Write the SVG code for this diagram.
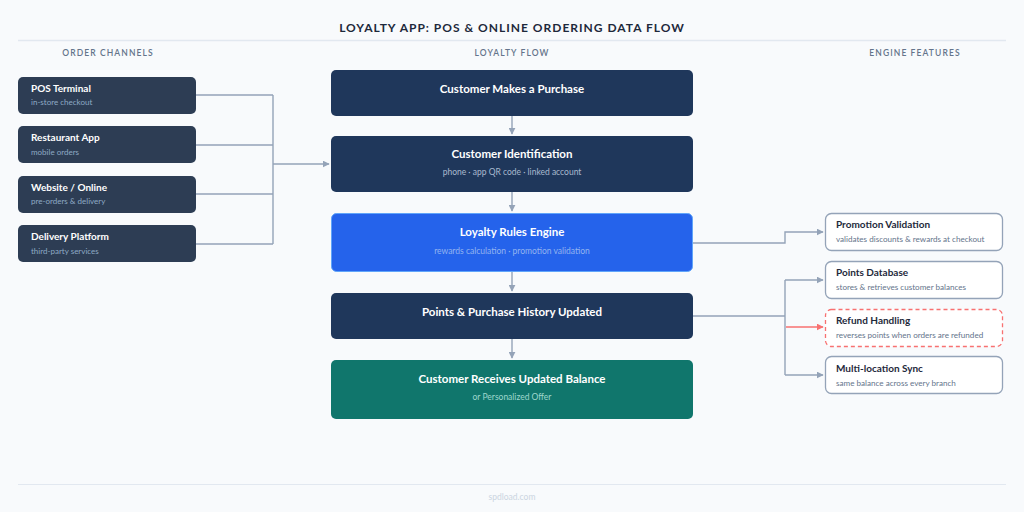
<svg xmlns="http://www.w3.org/2000/svg" width="1024" height="512" viewBox="0 0 1024 512">
<defs>
<marker id="ah" viewBox="0 0 10 10" refX="9" refY="5" markerWidth="7" markerHeight="7" orient="auto" markerUnits="userSpaceOnUse"><path d="M0,0 L10,5 L0,10 z" fill="#94a3b8"/></marker>
<marker id="ahr" viewBox="0 0 10 10" refX="9" refY="5" markerWidth="7" markerHeight="7" orient="auto" markerUnits="userSpaceOnUse"><path d="M0,0 L10,5 L0,10 z" fill="#f87171"/></marker>
<style>
text{font-family:Lato,"Open Sans","Liberation Sans",sans-serif}
.title{font-size:12px;font-weight:700;fill:#1e293b;letter-spacing:1.0px}
.hdr{font-size:8.5px;font-weight:600;fill:#64748b;letter-spacing:1.1px}
.ln{fill:#2d3d54}
.lt{font-size:10px;font-weight:700;fill:#ffffff}
.ls{font-size:8px;fill:#8eaac4}
.ct{font-size:11.5px;font-weight:700;fill:#ffffff}
.cs{font-size:8.5px;fill:#a9b9cf}
.rn{fill:#ffffff;stroke:#94a3b8;stroke-width:1.3}
.rt{font-size:10px;font-weight:700;fill:#1e293b}
.rs{font-size:8.1px;fill:#64748b}
.con{fill:none;stroke:#94a3b8;stroke-width:1.4}
</style>
</defs>
<rect width="1024" height="512" fill="#f8fafc"/>
<text x="512" y="32" text-anchor="middle" class="title">LOYALTY APP: POS &amp; ONLINE ORDERING DATA FLOW</text>
<line x1="18" y1="40.5" x2="1006" y2="40.5" stroke="#e2e8f0" stroke-width="1.5"/>
<text x="108" y="56" text-anchor="middle" class="hdr">ORDER CHANNELS</text>
<text x="512" y="56" text-anchor="middle" class="hdr">LOYALTY FLOW</text>
<text x="915" y="56" text-anchor="middle" class="hdr">ENGINE FEATURES</text>

<g id="connectors">
<path class="con" d="M196,95 H273 M196,145 H273 M196,194 H273 M196,244 H273 M273,95 V244"/>
<path class="con" d="M273,164 H329" marker-end="url(#ah)"/>
<path class="con" d="M512,116 V134" marker-end="url(#ah)"/>
<path class="con" d="M512,192 V211" marker-end="url(#ah)"/>
<path class="con" d="M512,272 V291" marker-end="url(#ah)"/>
<path class="con" d="M512,339 V358" marker-end="url(#ah)"/>
<path class="con" d="M693,243 H785 V232 H823" marker-end="url(#ah)"/>
<path class="con" d="M693,316 H785 M785,280 V375"/>
<path class="con" d="M785,280 H823" marker-end="url(#ah)"/>
<path class="con" d="M785,375 H823" marker-end="url(#ah)"/>
<path fill="none" stroke="#f87171" stroke-width="1.4" d="M786,327 H823" marker-end="url(#ahr)"/>
</g>

<g id="n-pos"><rect x="18" y="77" width="178" height="37" rx="5" class="ln"/><text x="31" y="92" class="lt">POS Terminal</text><text x="31" y="105" class="ls">in-store checkout</text></g>
<g id="n-app"><rect x="18" y="126" width="178" height="37" rx="5" class="ln"/><text x="31" y="141" class="lt">Restaurant App</text><text x="31" y="155" class="ls">mobile orders</text></g>
<g id="n-web"><rect x="18" y="176" width="178" height="37" rx="5" class="ln"/><text x="31" y="191" class="lt">Website / Online</text><text x="31" y="204" class="ls">pre-orders &amp; delivery</text></g>
<g id="n-del"><rect x="18" y="225" width="178" height="37" rx="5" class="ln"/><text x="31" y="240" class="lt">Delivery Platform</text><text x="31" y="254" class="ls">third-party services</text></g>

<g id="n-purchase"><rect x="331" y="70" width="362" height="46" rx="5" fill="#1f375b"/><text x="512" y="93" text-anchor="middle" class="ct">Customer Makes a Purchase</text></g>
<g id="n-ident"><rect x="331" y="136" width="362" height="56" rx="5" fill="#1f375b"/><text x="512" y="158" text-anchor="middle" class="ct">Customer Identification</text><text x="512" y="175" text-anchor="middle" class="cs">phone · app QR code · linked account</text></g>
<g id="n-engine"><rect x="331.5" y="213.5" width="361" height="58" rx="5" fill="#2563eb" stroke="#60a5fa" stroke-width="1"/><text x="512" y="236" text-anchor="middle" class="ct">Loyalty Rules Engine</text><text x="512" y="254" text-anchor="middle" class="cs" style="fill:#93b4f0">rewards calculation · promotion validation</text></g>
<g id="n-points"><rect x="331" y="293" width="362" height="46" rx="5" fill="#1f375b"/><text x="512" y="316" text-anchor="middle" class="ct">Points &amp; Purchase History Updated</text></g>
<g id="n-balance"><rect x="331" y="360" width="362" height="59" rx="5" fill="#10766c"/><text x="512" y="383" text-anchor="middle" class="ct">Customer Receives Updated Balance</text><text x="512" y="400" text-anchor="middle" class="cs" style="fill:#9fd6cc">or Personalized Offer</text></g>

<g id="f-promo"><rect x="825.5" y="213.5" width="177" height="37" rx="6" class="rn"/><text x="836" y="228" class="rt">Promotion Validation</text><text x="836" y="242" class="rs">validates discounts &amp; rewards at checkout</text></g>
<g id="f-db"><rect x="825.5" y="261.5" width="177" height="37" rx="6" class="rn"/><text x="836" y="276" class="rt">Points Database</text><text x="836" y="290" class="rs">stores &amp; retrieves customer balances</text></g>
<g id="f-refund"><rect x="825.5" y="309.5" width="177" height="37" rx="6" fill="#ffffff" stroke="#f87171" stroke-width="1.3" stroke-dasharray="4 3"/><text x="836" y="324" class="rt">Refund Handling</text><text x="836" y="338" class="rs">reverses points when orders are refunded</text></g>
<g id="f-sync"><rect x="825.5" y="356.5" width="177" height="37" rx="6" class="rn"/><text x="836" y="372" class="rt">Multi-location Sync</text><text x="836" y="386" class="rs">same balance across every branch</text></g>

<line x1="18" y1="484.5" x2="1006" y2="484.5" stroke="#e2e8f0" stroke-width="1"/>
<text x="512" y="500" text-anchor="middle" font-size="8.5" fill="#cbd5e1">spdload.com</text>
</svg>
